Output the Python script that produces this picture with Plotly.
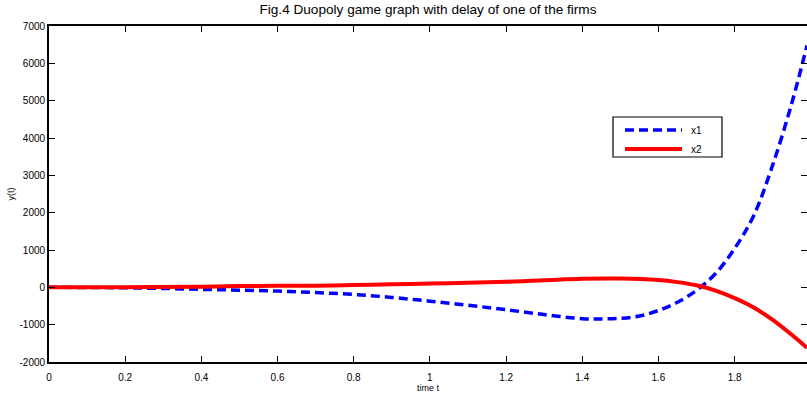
import plotly.graph_objects as go

# ---- data ----
t_x1 = [0, 0.1, 0.2, 0.3, 0.4, 0.5, 0.6, 0.7, 0.8, 0.9, 1.0, 1.1, 1.2, 1.3, 1.4,
        1.45, 1.5, 1.55, 1.6, 1.65, 1.7, 1.75, 1.8, 1.85, 1.9, 1.95, 1.99]
x1 = [0, -3, -12, -30, -55, -75, -100, -140, -190, -270, -370, -480, -600, -730, -840,
      -845, -830, -770, -620, -400, -80, 370, 1040, 1920, 3280, 4930, 6480]

t_x2 = [0, 0.2, 0.4, 0.5, 0.6, 0.7, 0.8, 0.9, 1.0, 1.1, 1.2, 1.3, 1.4, 1.5,
        1.6, 1.65, 1.7, 1.75, 1.8, 1.85, 1.9, 1.95, 1.99]
x2 = [0, 5, 15, 35, 40, 45, 60, 80, 100, 120, 150, 190, 230, 235,
      195, 140, 55, -90, -290, -540, -870, -1270, -1620]

x_ticks = [0, 0.2, 0.4, 0.6, 0.8, 1.0, 1.2, 1.4, 1.6, 1.8]
x_tick_labels = ["0", "0.2", "0.4", "0.6", "0.8", "1", "1.2", "1.4", "1.6", "1.8"]
y_ticks = [-2000, -1000, 0, 1000, 2000, 3000, 4000, 5000, 6000, 7000]
y_tick_labels = [str(v) for v in y_ticks]
series_names = ["x1", "x2"]

FONT = "Liberation Sans, Arial, sans-serif"

fig = go.Figure()
fig.add_trace(go.Scatter(x=t_x1, y=x1, mode="lines", name=series_names[0],
                         line=dict(color="#0000ff", width=3.5, dash="9px,5px", shape="spline"),
                         showlegend=False))
fig.add_trace(go.Scatter(x=t_x2, y=x2, mode="lines", name=series_names[1],
                         line=dict(color="#ff0000", width=4, shape="spline"),
                         showlegend=False))

# custom MATLAB-like legend box (paper coordinates)
L, R, T, B = 613, 722, 117, 157
def px(xp):
    return (xp - 49) / 758
def py(yp):
    return (362 - yp) / 336

fig.add_shape(type="rect", xref="paper", yref="paper", x0=px(L), x1=px(R), y0=py(B), y1=py(T),
              line=dict(color="black", width=1.2), fillcolor="white", layer="above")
rows = [(130, "#0000ff", "9px,5px", 3.5), (149, "#ff0000", "solid", 4)]
for (yy, col, dash, w), nm in zip(rows, series_names):
    fig.add_shape(type="line", xref="paper", yref="paper", x0=px(625), x1=px(682),
                  y0=py(yy), y1=py(yy), line=dict(color=col, width=w, dash=dash), layer="above")
    fig.add_annotation(xref="paper", yref="paper", x=px(689), y=py(yy), text=nm,
                       showarrow=False, xanchor="left", yanchor="middle",
                       font=dict(family=FONT, size=10, color="black"))

fig.update_layout(
    width=807, height=400,
    margin=dict(l=49, r=0, t=26, b=38, autoexpand=False),
    paper_bgcolor="white", plot_bgcolor="white",
    font=dict(family=FONT, size=10, color="black"),
    title=dict(text="Fig.4 Duopoly game graph with delay of one of the firms",
               x=0.5, xref="paper", y=0.976, yref="container", xanchor="center", yanchor="middle",
               font=dict(family=FONT, size=13.6, color="black"), automargin=False),
    showlegend=False,
)
fig.update_xaxes(range=[0, 1.99], tickvals=x_ticks, ticktext=x_tick_labels, automargin=False,
                 showgrid=False, zeroline=False, showline=True, linecolor="black", linewidth=1.5,
                 mirror="ticks", ticks="inside", ticklen=6, tickcolor="black", tickwidth=1,
                 ticklabelstandoff=5,
                 title=dict(text="time t", font=dict(family=FONT, size=9), standoff=3),
                 tickfont=dict(family=FONT, size=10))
fig.update_yaxes(range=[-2000, 7000], tickvals=y_ticks, ticktext=y_tick_labels, automargin=False,
                 showgrid=False, zeroline=False, showline=True, linecolor="black", linewidth=1.8,
                 mirror="ticks", ticks="inside", ticklen=6, tickcolor="black", tickwidth=1,
                 title=dict(text="y(t)", font=dict(family=FONT, size=9), standoff=3),
                 tickfont=dict(family=FONT, size=10))

fig.write_html("out.html", config={"displayModeBar": False},
               post_script="document.body.style.margin='0px';document.body.style.overflow='hidden';")
